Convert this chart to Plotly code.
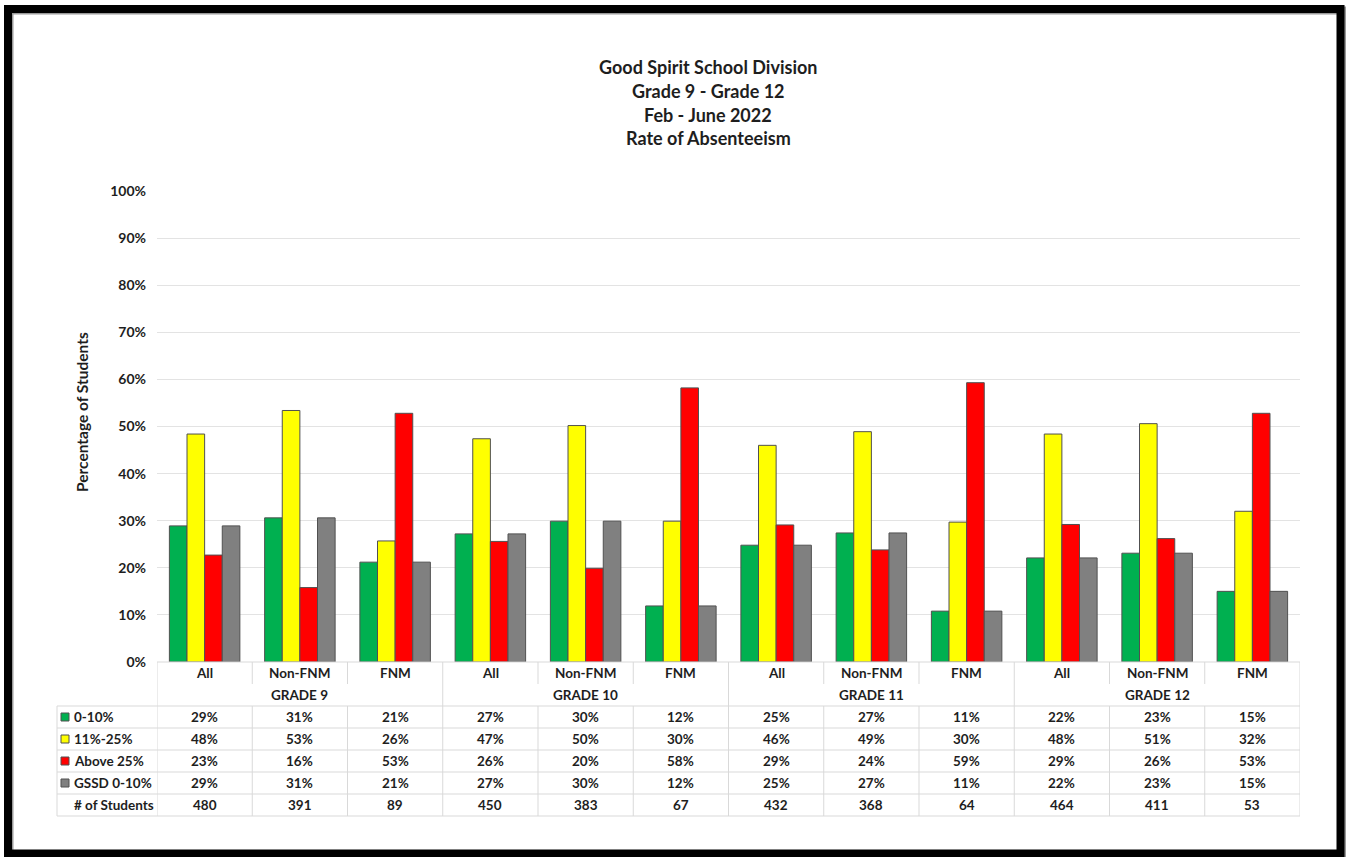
import plotly.graph_objects as go

# ---------------- data ----------------
grades = ["GRADE 9", "GRADE 10", "GRADE 11", "GRADE 12"]
subgroups = ["All", "Non-FNM", "FNM"]
categories = [s for g in grades for s in subgroups]

series_names = ["0-10%", "11%-25%", "Above 25%", "GSSD 0-10%"]
low_0_10 = [28.9, 30.6, 21.2, 27.2, 29.9, 11.9, 24.8, 27.4, 10.8, 22.1, 23.1, 15.0]
mid_11_25 = [48.4, 53.4, 25.7, 47.4, 50.2, 29.9, 46.0, 48.9, 29.7, 48.4, 50.6, 32.0]
above_25 = [22.7, 15.8, 52.8, 25.6, 19.9, 58.2, 29.1, 23.8, 59.3, 29.2, 26.2, 52.8]
gssd_0_10 = [28.9, 30.6, 21.2, 27.2, 29.9, 11.9, 24.8, 27.4, 10.8, 22.1, 23.1, 15.0]
num_students = [480, 391, 89, 450, 383, 67, 432, 368, 64, 464, 411, 53]

table_pct = [
    [29, 31, 21, 27, 30, 12, 25, 27, 11, 22, 23, 15],
    [48, 53, 26, 47, 50, 30, 46, 49, 30, 48, 51, 32],
    [23, 16, 53, 26, 20, 58, 29, 24, 59, 29, 26, 53],
    [29, 31, 21, 27, 30, 12, 25, 27, 11, 22, 23, 15],
]
y_ticks = [0, 10, 20, 30, 40, 50, 60, 70, 80, 90, 100]
titles = ["Good Spirit School Division", "Grade 9 - Grade 12", "Feb - June 2022", "Rate of Absenteeism"]

colors = ["#00B050", "#FFFF00", "#FF0000", "#808080"]
series = [low_0_10, mid_11_25, above_25, gssd_0_10]

# ---------------- layout geometry ----------------
W, H = 1346, 857
L, R, T, B = 157, 1300, 191, 662  # plot area in pixels
FONT = "Lato"
TXT = "#1e1e1e"
TS = 13.5  # table font size


def px(p):
    return (p - L) / (R - L)


def py(p):
    return (B - p) / (B - T)


fig = go.Figure()
xs = list(range(len(categories)))
for name, vals, col in zip(series_names, series, colors):
    fig.add_trace(go.Bar(
        x=xs, y=vals, name=name,
        marker=dict(color=col, line=dict(color="#505050", width=1)),
        hoverinfo="y+name",
    ))

shapes = []
annotations = []

# outer black frame with faint shadow
shapes.append(dict(type="rect", xref="paper", yref="paper",
                   x0=px(9.5), x1=px(1342), y0=py(10.5), y1=py(855),
                   line=dict(color="#9a9a9a", width=8), fillcolor="rgba(0,0,0,0)", layer="above"))
shapes.append(dict(type="rect", xref="paper", yref="paper",
                   x0=px(8), x1=px(1340.5), y0=py(9), y1=py(853.5),
                   line=dict(color="black", width=8), fillcolor="rgba(0,0,0,0)", layer="above"))

# title
for i, t in enumerate(titles):
    annotations.append(dict(text=f"<b>{t}</b>", xref="paper", yref="paper",
                            x=px(708), y=py(67 + i * 23.8), xanchor="center", yanchor="middle",
                            showarrow=False, font=dict(family=FONT, size=18, color=TXT)))

# y-axis title
annotations.append(dict(text="<b>Percentage of Students</b>", xref="paper", yref="paper",
                        x=px(82), y=py(412), textangle=-90, xanchor="center", yanchor="middle",
                        showarrow=False, font=dict(family=FONT, size=15.5, color=TXT)))

# ---------------- table ----------------
grid = "#d9d9d9"
n = len(categories)
row_lines = [706, 728, 750, 772, 794, 816]
shapes.append(dict(type="line", xref="paper", yref="paper", x0=0, x1=1, y0=py(662), y1=py(662),
                   line=dict(color=grid, width=1)))
for yl in row_lines:
    shapes.append(dict(type="line", xref="paper", yref="paper", x0=px(57), x1=1, y0=py(yl), y1=py(yl),
                       line=dict(color=grid, width=1)))
shapes.append(dict(type="line", xref="paper", yref="paper", x0=px(57), x1=px(57), y0=py(706), y1=py(816),
                   line=dict(color=grid, width=1)))
for i in range(n + 1):
    xb = i - 0.5
    if i % 3 == 0:
        shapes.append(dict(type="line", xref="x", yref="paper", x0=xb, x1=xb, y0=py(662), y1=py(816),
                           line=dict(color=grid, width=1)))
    else:
        shapes.append(dict(type="line", xref="x", yref="paper", x0=xb, x1=xb, y0=py(662), y1=py(684),
                           line=dict(color=grid, width=1)))
        shapes.append(dict(type="line", xref="x", yref="paper", x0=xb, x1=xb, y0=py(706), y1=py(816),
                           line=dict(color=grid, width=1)))

for i, c in enumerate(categories):
    annotations.append(dict(text=f"<b>{c}</b>", xref="x", yref="paper", x=i, y=py(673),
                            xanchor="center", yanchor="middle", showarrow=False,
                            font=dict(family=FONT, size=TS, color=TXT)))
for gi, g in enumerate(grades):
    annotations.append(dict(text=f"<b>{g}</b>", xref="x", yref="paper", x=gi * 3 + 1, y=py(695),
                            xanchor="center", yanchor="middle", showarrow=False,
                            font=dict(family=FONT, size=TS, color=TXT)))

row_centers = [717, 739, 761, 783, 805]
for r, (name, col, vals) in enumerate(zip(series_names, colors, table_pct)):
    yc = row_centers[r]
    shapes.append(dict(type="rect", xref="paper", yref="paper", x0=px(61), x1=px(69),
                       y0=py(yc - 4), y1=py(yc + 4), fillcolor=col,
                       line=dict(color="#505050", width=1)))
    annotations.append(dict(text=f"<b>{name}</b>", xref="paper", yref="paper", x=px(72), y=py(yc),
                            xanchor="left", yanchor="middle", showarrow=False,
                            font=dict(family=FONT, size=TS, color=TXT)))
    for i, v in enumerate(vals):
        annotations.append(dict(text=f"<b>{v}%</b>", xref="x", yref="paper", x=i, y=py(yc),
                                xanchor="center", yanchor="middle", showarrow=False,
                                font=dict(family=FONT, size=TS, color=TXT)))
annotations.append(dict(text="<b># of Students</b>", xref="paper", yref="paper", x=px(72), y=py(805),
                        xanchor="left", yanchor="middle", showarrow=False,
                        font=dict(family=FONT, size=TS, color=TXT)))
for i, v in enumerate(num_students):
    annotations.append(dict(text=f"<b>{v}</b>", xref="x", yref="paper", x=i, y=py(805),
                            xanchor="center", yanchor="middle", showarrow=False,
                            font=dict(family=FONT, size=TS, color=TXT)))

fig.update_layout(
    width=W, height=H,
    margin=dict(l=L, r=W - R, t=T, b=H - B, pad=0),
    paper_bgcolor="white", plot_bgcolor="white",
    barmode="group", bargap=0.26, bargroupgap=0,
    showlegend=False,
    xaxis=dict(range=[-0.5, n - 0.5], showticklabels=False, showgrid=False, zeroline=False,
               ticks="", showline=False, fixedrange=True),
    yaxis=dict(range=[0, 100], tickvals=y_ticks, ticktext=[f"<b>{t}%</b>" for t in y_ticks],
               showgrid=True, gridcolor="#e3e3e3", gridwidth=1, zeroline=False, showline=False,
               ticks="", ticklabelstandoff=10,
               tickfont=dict(family=FONT, size=14, color=TXT), fixedrange=True),
    shapes=shapes, annotations=annotations,
    font=dict(family=FONT, color=TXT),
)

fig.write_html("out.html")
